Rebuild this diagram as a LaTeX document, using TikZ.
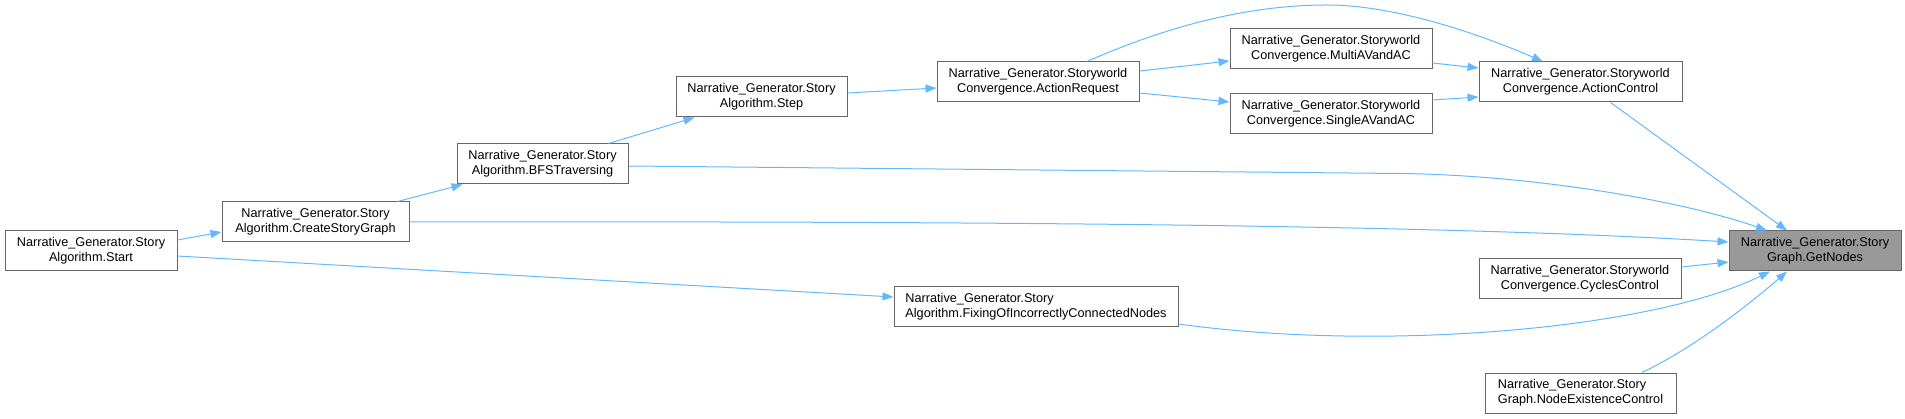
\documentclass[tikz,border=0pt]{standalone}
\usepackage{fontspec}
\setmainfont{Liberation Sans}
\usetikzlibrary{arrows.meta}
\definecolor{edgeblue}{HTML}{63B8FF}
\definecolor{nodeborder}{HTML}{666666}
\definecolor{rootfill}{HTML}{999999}
\newcommand{\dxfont}{\fontsize{12.7}{15}\selectfont}
\begin{document}
\begin{tikzpicture}[x=1pt,y=-1pt,
box/.style={draw=nodeborder,fill=white,line width=1pt,inner sep=0pt,
  minimum height=40pt,align=center,font=\dxfont},
root/.style={box,fill=rootfill},
call/.style={draw=edgeblue,line width=1pt,
  -{Triangle[length=11pt,width=8pt]}}]
\useasboundingbox (0,0) rectangle (1905,419);
% callers, left to right
\node [box,minimum width=172pt] (start) at (91,251)
  {Narrative\_Generator.Story\\Algorithm.Start};
\node [box,minimum width=187pt] (csg) at (315.5,222)
  {Narrative\_Generator.Story\\Algorithm.CreateStoryGraph};
\node [box,minimum width=171pt] (bfs) at (542.5,164)
  {Narrative\_Generator.Story\\Algorithm.BFSTraversing};
\node [box,minimum width=171pt] (step) at (761.5,97)
  {Narrative\_Generator.Story\\Algorithm.Step};
\node [box,minimum width=202pt] (areq) at (1038,82)
  {Narrative\_Generator.Storyworld\\Convergence.ActionRequest};
\node [box,minimum width=284pt,align=left] (fix) at (1036,307)
  {Narrative\_Generator.Story\\Algorithm.FixingOfIncorrectlyConnectedNodes};
\node [box,minimum width=202pt] (multi) at (1331,49)
  {Narrative\_Generator.Storyworld\\Convergence.MultiAVandAC};
\node [box,minimum width=202pt] (single) at (1331,114)
  {Narrative\_Generator.Storyworld\\Convergence.SingleAVandAC};
\node [box,minimum width=203pt] (actl) at (1580.5,82)
  {Narrative\_Generator.Storyworld\\Convergence.ActionControl};
\node [box,minimum width=202pt] (cyc) at (1580,279)
  {Narrative\_Generator.Storyworld\\Convergence.CyclesControl};
\node [box,minimum width=191pt,align=left] (nex) at (1580.5,393)
  {Narrative\_Generator.Story\\Graph.NodeExistenceControl};
% the called function
\node [root,minimum width=172pt] (getn) at (1815,251)
  {Narrative\_Generator.Story\\Graph.GetNodes};
% calls
\draw [call] ([yshift=11pt]start.east) -- ([yshift=-10pt]csg.west);
\draw [call] ([yshift=-5pt]start.east) -- ([yshift=10pt]fix.west);
\draw [call] ([xshift=-12pt]csg.north east) -- ([xshift=6pt]bfs.south west);
\draw [call] ([xshift=-20pt]bfs.north east) -- ([xshift=19pt]step.south west);
\draw [call] ([yshift=4pt]step.east) -- ([yshift=-6pt]areq.west);
\draw [call] ([yshift=11pt]areq.east) -- ([yshift=-12pt]multi.west);
\draw [call] ([yshift=-11pt]areq.east) -- ([yshift=12pt]single.west);
\draw [call] ([xshift=49pt]areq.north) .. controls (1170,25) and (1250,5)
  .. (1327,5) .. controls (1390,5) and (1470,30) .. ([xshift=-37.5pt]actl.north);
\draw [call] ([yshift=-14pt]multi.east) -- ([yshift=14pt]actl.west);
\draw [call] ([yshift=14pt]single.east) -- ([yshift=-15pt]actl.west);
\draw [call] ([xshift=30pt]actl.south) -- ([xshift=-28pt]getn.north);
\draw [call] ([yshift=-2pt]bfs.east) -- (1400,173.5)
  .. controls (1530,175) and (1680,200) .. ([xshift=-48pt]getn.north);
\draw [call] (csg.east) .. controls (1000,221) and (1450,225)
  .. ([yshift=9pt]getn.west);
\draw [call] ([yshift=12pt]cyc.east) -- ([yshift=-11pt]getn.west);
\draw [call] ([yshift=-17pt]fix.east) .. controls (1380,352) and (1650,330)
  .. ([xshift=-45pt]getn.south);
\draw [call] ([xshift=61.5pt]nex.north) .. controls (1700,345) and (1760,295)
  .. ([xshift=-28pt]getn.south);
\end{tikzpicture}
\end{document}
